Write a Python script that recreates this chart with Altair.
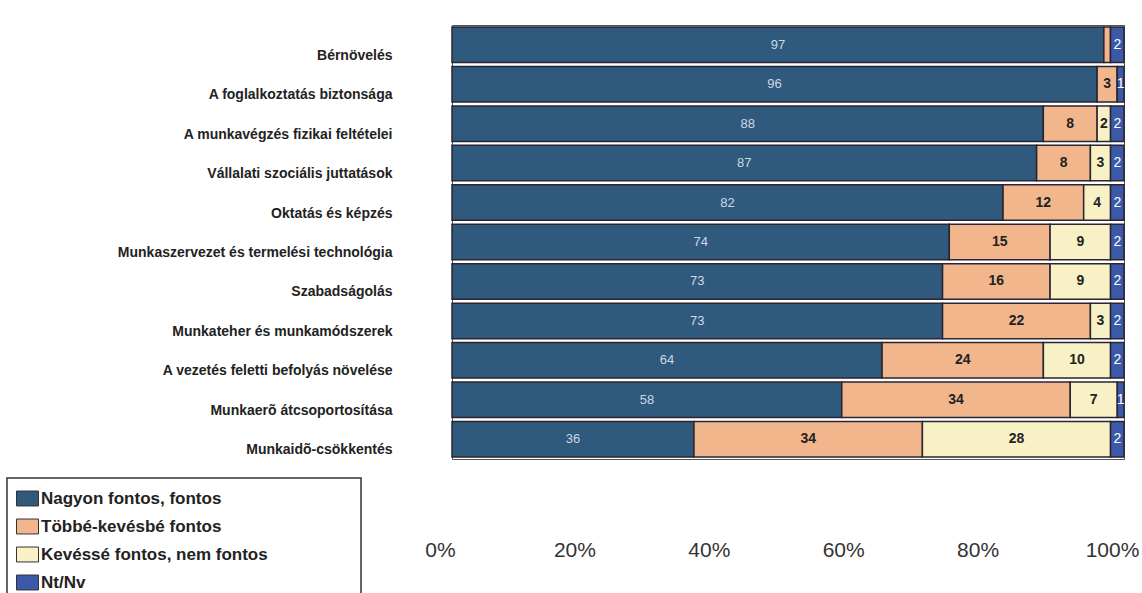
import altair as alt
import pandas as pd

# Survey items, top to bottom
categories = [
    "Bérnövelés",
    "A foglalkoztatás biztonsága",
    "A munkavégzés fizikai feltételei",
    "Vállalati szociális  juttatások",
    "Oktatás és képzés",
    "Munkaszervezet és termelési technológia",
    "Szabadságolás",
    "Munkateher és munkamódszerek",
    "A vezetés feletti befolyás növelése",
    "Munkaerõ átcsoportosítása",
    "Munkaidõ-csökkentés",
]

series = [
    "Nagyon fontos, fontos",
    "Többé-kevésbé fontos",
    "Kevéssé fontos, nem fontos",
    "Nt/Nv",
]

# Percentages per series, in category order
nagyon_fontos = [97, 96, 88, 87, 82, 74, 73, 73, 64, 58, 36]
tobbe_kevesbe = [1, 3, 8, 8, 12, 15, 16, 22, 24, 34, 34]
kevesse = [0, 0, 2, 3, 4, 9, 9, 3, 10, 7, 28]
nt_nv = [2, 1, 2, 2, 2, 2, 2, 2, 2, 1, 2]

x_ticks = [0, 20, 40, 60, 80, 100]

colors = ["#2f5a7e", "#f2b68c", "#f8f1c6", "#3a59a8"]

rows = []
for s_idx, (name, vals) in enumerate(zip(series, [nagyon_fontos, tobbe_kevesbe, kevesse, nt_nv])):
    for cat, v in zip(categories, vals):
        rows.append({"category": cat, "series": name, "order": s_idx, "value": v})
df = pd.DataFrame(rows)

FONT = "Arial, Liberation Sans, sans-serif"

# blank (braille) glyphs widen the legend frame without drawing anything
LEGEND_PAD = "\u2800" * 7

base = alt.Chart(df).transform_stack(
    stack="value",
    groupby=["category"],
    sort=[alt.SortField("order", order="ascending")],
    as_=["x0", "x1"],
).transform_calculate(
    mid="(datum.x0 + datum.x1) / 2"
)

y_enc = alt.Y(
    "category:N",
    sort=categories,
    scale=alt.Scale(paddingInner=0.1, paddingOuter=0.05),
    axis=alt.Axis(
        title=None,
        domain=False,
        ticks=False,
        labelFont=FONT,
        labelFontSize=14,
        labelFontWeight="bold",
        labelColor="#222222",
        labelPadding=60,
        labelOffset=11,
        labelLimit=420,
    ),
)

x_scale = alt.Scale(domain=[0, 100], nice=False, zero=True)

bars = base.mark_bar(stroke="#2a2530", strokeWidth=1.5).encode(
    x=alt.X(
        "x0:Q",
        scale=x_scale,
        axis=alt.Axis(
            title=None,
            values=x_ticks,
            labelExpr="datum.value + '%'",
            domain=False,
            ticks=False,
            grid=False,
            labelFont=FONT,
            labelFontSize=21,
            labelColor="#333333",
            labelPadding=80,
            labelOffset=-12,
            labelFlush=False,
        ),
    ),
    x2="x1:Q",
    y=y_enc,
    color=alt.Color(
        "series:N",
        sort=series,
        scale=alt.Scale(domain=series, range=colors),
        legend=alt.Legend(
            title=None,
            orient="none",
            legendX=-445,
            legendY=453,
            direction="vertical",
            labelFont=FONT,
            labelFontSize=17,
            labelFontWeight="bold",
            labelColor="#222222",
            labelOffset=2,
            labelLimit=500,
            labelExpr="datum.label + '" + LEGEND_PAD + "'",
            symbolType="M-1,-0.68H1V0.68H-1Z",
            symbolSize=484,
            symbolStrokeColor="#333333",
            symbolStrokeWidth=1,
            rowPadding=7,
            padding=9,
            strokeColor="#333333",
            fillColor="white",
        ),
    ),
    order=alt.Order("order:Q"),
)

def value_text(series_name, color, weight, size, min_value):
    return base.transform_filter(
        (alt.datum.series == series_name) & (alt.datum.value >= min_value)
    ).mark_text(
        font=FONT, fontSize=size, fontWeight=weight, color=color, baseline="middle", align="center"
    ).encode(
        x=alt.X("mid:Q", scale=x_scale),
        y=alt.Y("category:N", sort=categories),
        text="value:Q",
    )

labels = [
    value_text(series[0], "#cdd7e2", "normal", 13, 1),
    value_text(series[1], "#222222", "bold", 14, 2),
    value_text(series[2], "#222222", "bold", 14, 2),
    value_text(series[3], "#ffffff", "normal", 14, 1),
]

chart = alt.layer(bars, *labels).properties(
    width=672,
    height=434,
    autosize=alt.AutoSizeParams(type="none"),
    padding={"left": 452, "top": 25, "right": 18, "bottom": 134},
    background="white",
).configure_view(
    stroke="#555555",
    strokeWidth=1,
).configure_legend(
    strokeWidth=1.5,
)

chart.save("out.html", embed_options={"renderer": "svg", "actions": False})
